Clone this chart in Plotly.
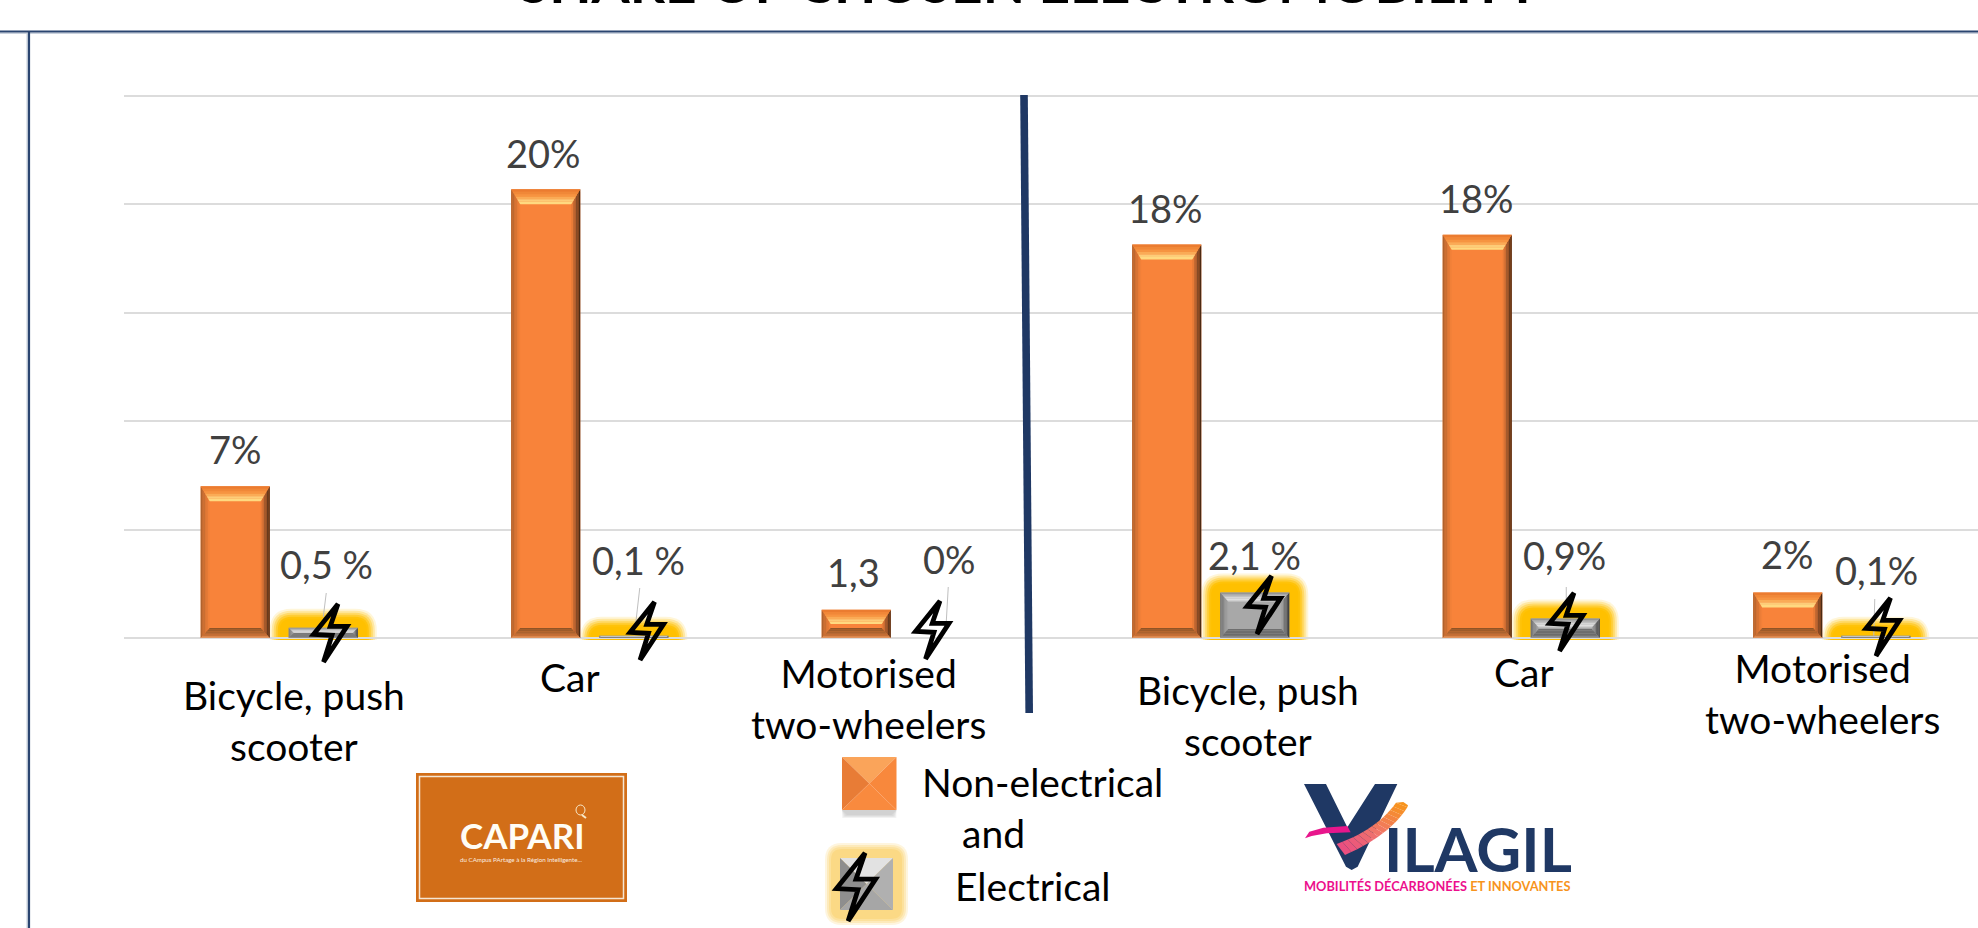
import plotly.graph_objects as go

# ---------- data ----------
TITLE = "SHARE OF CHOSEN ELECTROMOBILITY"
CATEGORIES = ["Bicycle, push<br>scooter", "Car", "Motorised<br>two-wheelers",
              "Bicycle, push<br>scooter", "Car", "Motorised<br>two-wheelers"]
NON_ELECTRICAL = [7.0, 20.7, 1.3, 18.15, 18.6, 2.1]
ELECTRICAL = [0.47, 0.1, 0.0, 2.1, 0.9, 0.1]
NON_ELECTRICAL_LABELS = ["7%", "20%", "1,3", "18%", "18%", "2%"]
ELECTRICAL_LABELS = ["0,5 %", "0,1 %", "0%", "2,1 %", "0,9%", "0,1%"]
Y_TICKS = [0, 5, 10, 15, 20, 25]
LEGEND_LINES = ["Non-electrical", "and", "Electrical"]

# ---------- layout constants ----------
W, H = 1978, 928
X0, SLOT = 124.0, 310.5     # left of plot, px per category
BASE, UNIT = 638.0, 21.68   # baseline px, px per percentage point
SERIES_STEP, BAR_W = 0.2835, 0.2225
FONT = "Lato"
NAVY = "#1F3864"


def xd(p):
    return (p - X0) / SLOT - 0.5


def yd(p):
    return (BASE - p) / UNIT


def xpx(v):
    return X0 + (v + 0.5) * SLOT


def ypx(v):
    return BASE - v * UNIT


def hexrgb(c):
    c = c.lstrip("#")
    return [int(c[i:i + 2], 16) for i in (0, 2, 4)]


def ramp(stops, t):
    for (a, ca), (b, cb) in zip(stops, stops[1:]):
        if t <= b:
            f = (t - a) / (b - a) if b > a else 0
            ra, rb = hexrgb(ca), hexrgb(cb)
            return "rgb(%d,%d,%d)" % tuple(round(ra[i] + (rb[i] - ra[i]) * f) for i in range(3))
    return stops[-1][1]


shapes = []


def poly_data(pts, fill, layer="above", opacity=1.0):
    d = "M" + " L".join(f"{xd(x):.5f},{yd(y):.4f}" for x, y in pts) + " Z"
    shapes.append(dict(type="path", path=d, xref="x", yref="y", fillcolor=fill,
                       line=dict(width=0), layer=layer, opacity=opacity))


def poly_paper(pts, fill, opacity=1.0):
    d = "M" + " L".join(f"{x / W:.5f},{1 - y / H:.5f}" for x, y in pts) + " Z"
    shapes.append(dict(type="path", path=d, xref="paper", yref="paper", fillcolor=fill,
                       line=dict(width=0), opacity=opacity))


def band(outer, inner, stops, n=6, add=poly_data):
    (o1, o2), (i1, i2) = outer, inner
    for k in range(n):
        t0, t1 = k / n, (k + 1) / n
        lerp = lambda a, b, t: (a[0] + (b[0] - a[0]) * t, a[1] + (b[1] - a[1]) * t)
        add([lerp(o1, i1, t0), lerp(o2, i2, t0), lerp(o2, i2, t1), lerp(o1, i1, t1)],
            ramp(stops, (t0 + t1) / 2))


ORANGE = "#F8833A"
GRAY = "#A8A8A8"
OR_STOPS = dict(
    l=[(0, "#A85F2C"), (1, ORANGE)],
    r=[(0, "#3E220E"), (0.5, "#94522A"), (1, ORANGE)],
    t=[(0, "#E8762C"), (0.5, "#F99A45"), (0.85, "#FFE08C"), (1, "#FFD070")],
    b=[(0, "#F0A878"), (0.2, "#C87238"), (1, "#8A5024")],
)
GR_STOPS = dict(
    l=[(0, "#6E6E6E"), (1, GRAY)],
    r=[(0, "#3A3A3A"), (0.5, "#6B6B6B"), (1, GRAY)],
    t=[(0, "#8A8A8A"), (0.7, "#E4E4E4"), (1, "#C8C8C8")],
    b=[(0, "#A0A0A0"), (0.3, "#6A6A6A"), (1, "#707070")],
)


def bevel(cx, value, stops, top_px, bot_px, side_px):
    x0, x1 = xpx(cx - BAR_W / 2), xpx(cx + BAR_W / 2)
    yt, yb = ypx(value), ypx(0)
    h = yb - yt
    st = min(top_px, h * 0.5)
    sb = min(bot_px, h * 0.5)
    sx = min(side_px, max(h * 0.5, 2))
    a, b, c, d = (x0, yt), (x1, yt), (x1, yb), (x0, yb)
    ia, ib, ic, id_ = (x0 + sx, yt + st), (x1 - sx, yt + st), (x1 - sx, yb - sb), (x0 + sx, yb - sb)
    band((a, d), (ia, id_), stops["l"])
    band((b, c), (ib, ic), stops["r"])
    band((a, b), (ia, ib), stops["t"])
    band((d, c), (id_, ic), stops["b"])


def glow(cx, value):
    x0, x1 = xpx(cx - BAR_W / 2), xpx(cx + BAR_W / 2)
    yt, yb = ypx(value), ypx(0) + 2
    for r, op in ((19, .15), (17, .25), (15, .35), (13, .5), (11, .8), (9, 1)):
        r2 = r + 3
        L, R, T = x0 - r, x1 + r, yt - r
        p = (f"M{xd(L):.5f},{yd(yb):.4f} L{xd(L):.5f},{yd(T + r2):.4f} "
             f"Q{xd(L):.5f},{yd(T):.4f} {xd(L + r2):.5f},{yd(T):.4f} "
             f"L{xd(R - r2):.5f},{yd(T):.4f} Q{xd(R):.5f},{yd(T):.4f} {xd(R):.5f},{yd(T + r2):.4f} "
             f"L{xd(R):.5f},{yd(yb):.4f} Z")
        shapes.append(dict(type="path", path=p, xref="x", yref="y", fillcolor="#FFC000",
                           opacity=op, line=dict(width=0), layer="below"))


BOLT = [(7.7, -29), (-16.7, 1.3), (1.7, 2.3), (-6.7, 29), (16.7, -6.7), (0, -6.7)]


def bolt_data(cx, cy):
    d = "M" + " L".join(f"{xd(cx + a):.5f},{yd(cy + b):.4f}" for a, b in BOLT) + " Z"
    shapes.append(dict(type="path", path=d, xref="x", yref="y",
                       line=dict(color="black", width=4.8), layer="above"))


# bar decorations, all anchored on the values
for i, v in enumerate(NON_ELECTRICAL):
    bevel(i - SERIES_STEP / 2, v, OR_STOPS, 15, 10, 9)
for i, v in enumerate(ELECTRICAL):
    if v > 0:
        glow(i + SERIES_STEP / 2, v)
        bevel(i + SERIES_STEP / 2, v, GR_STOPS, 9, 9, 8)

# bolt centre, as px offset from the electrical bar centre and baseline
BOLT_OFFSET = [(7, -5), (13, -7), (-12, -8), (9, -33), (1, -16), (7, -11)]
for i, (dx, dy) in enumerate(BOLT_OFFSET):
    bolt_data(xpx(i + SERIES_STEP / 2) + dx, BASE + dy)

# leader lines (px offsets from electrical bar centre/baseline)
LEADERS = {0: (3, -45, 0, -21), 1: (6, -50, 2, -15), 2: (4, -51, 2, -16), 4: (1, -51, 1, -35), 5: (-1, -39, -2, -1)}
for i, (a, b, c, d) in LEADERS.items():
    cx = xpx(i + SERIES_STEP / 2)
    shapes.append(dict(type="line", xref="x", yref="y", x0=xd(cx + a), y0=yd(BASE + b),
                       x1=xd(cx + c), y1=yd(BASE + d), line=dict(color="#BFBFBF", width=1), layer="below"))

# frame
for (a, b, c, d, col, wd) in [(0, 33.2, W, 33.2, "#C9D1DD", 1.5), (0, 31.5, W, 31.5, "#2B4570", 2.2),
                              (27.2, 33, 27.2, H, "#C9D1DD", 1.5), (29, 31, 29, H, "#2B4570", 2.2)]:
    shapes.append(dict(type="line", xref="paper", yref="paper", x0=a / W, y0=1 - b / H, x1=c / W, y1=1 - d / H,
                       line=dict(color=col, width=wd)))

# divider
poly_paper([(1020.2, 95), (1027.8, 95), (1033, 713), (1025.4, 713)], NAVY)

# ---- legend swatches ----
for k in range(6):
    poly_paper([(842, 810), (896.5, 810), (896.5 - k, 818 - k * .6), (842 + k, 818 - k * .6)], "#999999", .09)
ox0, ox1, oy0, oy1 = 842, 896.5, 757, 810
mx, my = (ox0 + ox1) / 2, (oy0 + oy1) / 2
poly_paper([(ox0, oy0), (ox1, oy0), (mx, my)], "#FAA45A")
poly_paper([(ox0, oy0), (ox0, oy1), (mx, my)], "#E87C36")
poly_paper([(ox1, oy0), (ox1, oy1), (mx, my)], "#F8883C")
poly_paper([(ox0, oy1), (ox1, oy1), (mx, my)], "#F98A3E")

gx0, gx1, gy0, gy1 = 840, 893, 858, 910
for r, op in ((15, .25), (13, .35), (11, .45), (9, .7)):
    rr = r + 2
    d = (f"M{(gx0 - r + rr) / W:.5f},{1 - (gy0 - r) / H:.5f} L{(gx1 + r - rr) / W:.5f},{1 - (gy0 - r) / H:.5f} "
         f"Q{(gx1 + r) / W:.5f},{1 - (gy0 - r) / H:.5f} {(gx1 + r) / W:.5f},{1 - (gy0 - r + rr) / H:.5f} "
         f"L{(gx1 + r) / W:.5f},{1 - (gy1 + r - rr) / H:.5f} Q{(gx1 + r) / W:.5f},{1 - (gy1 + r) / H:.5f} "
         f"{(gx1 + r - rr) / W:.5f},{1 - (gy1 + r) / H:.5f} L{(gx0 - r + rr) / W:.5f},{1 - (gy1 + r) / H:.5f} "
         f"Q{(gx0 - r) / W:.5f},{1 - (gy1 + r) / H:.5f} {(gx0 - r) / W:.5f},{1 - (gy1 + r - rr) / H:.5f} "
         f"L{(gx0 - r) / W:.5f},{1 - (gy0 - r + rr) / H:.5f} Q{(gx0 - r) / W:.5f},{1 - (gy0 - r) / H:.5f} "
         f"{(gx0 - r + rr) / W:.5f},{1 - (gy0 - r) / H:.5f} Z")
    shapes.append(dict(type="path", path=d, xref="paper", yref="paper", fillcolor="#FBD67A",
                       opacity=op, line=dict(width=0)))
gmx, gmy = (gx0 + gx1) / 2, (gy0 + gy1) / 2
poly_paper([(gx0, gy0), (gx1, gy0), (gmx, gmy)], "#E2E2E2")
poly_paper([(gx0, gy0), (gx0, gy1), (gmx, gmy)], "#8E8E8E")
poly_paper([(gx1, gy0), (gx1, gy1), (gmx, gmy)], "#B0B0B0")
poly_paper([(gx0, gy1), (gx1, gy1), (gmx, gmy)], "#A6A6A6")
sc = 68 / 58
d = "M" + " L".join(f"{(856 + a * sc) / W:.5f},{1 - (887 + b * sc) / H:.5f}" for a, b in BOLT) + " Z"
shapes.append(dict(type="path", path=d, xref="paper", yref="paper", line=dict(color="black", width=4.8)))

# ---- CAPARI logo ----
shapes.append(dict(type="rect", xref="paper", yref="paper", x0=416 / W, x1=627 / W, y0=1 - 773 / H, y1=1 - 902 / H,
                   fillcolor="#D26E18", line=dict(width=0)))
shapes.append(dict(type="rect", xref="paper", yref="paper", x0=419.5 / W, x1=623.5 / W, y0=1 - 776.5 / H, y1=1 - 898.5 / H,
                   line=dict(color="#F5E6D3", width=1.5)))
shapes.append(dict(type="circle", xref="paper", yref="paper", x0=576 / W, x1=585 / W, y0=1 - 805 / H, y1=1 - 815 / H,
                   line=dict(color="#F8E8C8", width=1)))
shapes.append(dict(type="line", xref="paper", yref="paper", x0=582 / W, x1=586 / W, y0=1 - 815 / H, y1=1 - 818 / H,
                   line=dict(color="#F8E8C8", width=2)))

# ---- VILAGIL logo (local coordinates are 3x px from its corner) ----
lg = lambda x, y: (1290 + x / 3, 770 + y / 3)
poly_paper([lg(*p) for p in [(42, 42), (108, 42), (172, 172), (255, 42), (322, 42), (203, 290), (185, 300), (168, 290)]], NAVY)
poly_paper([lg(*p) for p in [(45, 205), (58, 185), (100, 173), (172, 168), (182, 187), (110, 190), (65, 198)]], "#E8168C")


def qb(p0, p1, p2, t):
    return ((1 - t) ** 2 * p0[0] + 2 * (1 - t) * t * p1[0] + t * t * p2[0],
            (1 - t) ** 2 * p0[1] + 2 * (1 - t) * t * p1[1] + t * t * p2[1])


N = 14
for k in range(N):
    t0, t1 = k / N, (k + 1) / N
    A = ((140, 222), (262, 178), (318, 98))
    B = ((165, 255), (300, 195), (352, 112))
    col = ramp([(0, "#EA4C82"), (0.45, "#F0736C"), (1, "#F7941D")], (t0 + t1) / 2)
    poly_paper([lg(*qb(*A, t0)), lg(*qb(*A, t1)), lg(*qb(*B, t1)), lg(*qb(*B, t0))], col)
poly_paper([lg(318, 98), lg(340, 96), lg(354, 106), lg(352, 112)], "#F7941D")

# ---------- annotations ----------
ann = []


def pa(x, y, text, size, color="black", bold=False, xanchor="center"):
    ann.append(dict(x=x / W, y=1 - y / H, xref="paper", yref="paper", text=f"<b>{text}</b>" if bold else text,
                    showarrow=False, xanchor=xanchor, yanchor="middle",
                    font=dict(family=FONT, size=size, color=color)))


pa(1030, -18, TITLE, 55, "black", True)

LABEL_SIZE = 38
NE_LABEL = [(0, -37), (-2, -36), (-3, -38), (-1, -37), (-1, -37), (0, -38)]     # px from bar top
E_LABEL = [(3, -64), (5, -76), (5, -79), (0, -37), (-1, -63), (1, -66)]
for i, (v, t) in enumerate(zip(NON_ELECTRICAL, NON_ELECTRICAL_LABELS)):
    ann.append(dict(x=i - SERIES_STEP / 2, y=v, xref="x", yref="y", text=t, showarrow=False,
                    xshift=NE_LABEL[i][0], yshift=-NE_LABEL[i][1], yanchor="middle",
                    font=dict(family=FONT, size=LABEL_SIZE, color="#404040")))
for i, (v, t) in enumerate(zip(ELECTRICAL, ELECTRICAL_LABELS)):
    ann.append(dict(x=i + SERIES_STEP / 2, y=v, xref="x", yref="y", text=t, showarrow=False,
                    xshift=E_LABEL[i][0], yshift=-E_LABEL[i][1], yanchor="middle",
                    font=dict(family=FONT, size=LABEL_SIZE, color="#404040")))

CAT_POS = [(294, 720), (570, 677), (868, 698), (1248, 715), (1524, 672), (1822, 693)]
for (x, y), t in zip(CAT_POS, CATEGORIES):
    pa(x, y, t, 39)

pa(1042, 782, LEGEND_LINES[0], 39)
pa(993, 833, LEGEND_LINES[1], 39)
pa(1033, 886, LEGEND_LINES[2], 39)

pa(522, 835, "CAPARI", 35, "#FFFDF5", True)
pa(521, 859, "du CAmpus PArtage à la Région Intelligente...", 6.2, "#FBEFE2")

pa(1478, 848, "ILAGIL", 62, NAVY, True)
pa(1437.5, 886,
   "<span style='color:#EC0F8C'>MOBILITÉS DÉCARBONÉES</span> <span style='color:#F7941D'>ET INNOVANTES</span>",
   12.8, NAVY, True)

# ---------- figure ----------
idx = list(range(len(CATEGORIES)))
fig = go.Figure()
fig.add_bar(x=idx, y=NON_ELECTRICAL, name="Non-electrical", marker=dict(color=ORANGE, line=dict(width=0)))
fig.add_bar(x=idx, y=ELECTRICAL, name="Electrical", marker=dict(color=GRAY, line=dict(width=0)))
fig.update_layout(
    width=W, height=H, margin=dict(l=0, r=0, t=0, b=0), autosize=False,
    paper_bgcolor="white", plot_bgcolor="white", showlegend=False,
    barmode="group", bargap=1 - 2 * SERIES_STEP, bargroupgap=1 - BAR_W / SERIES_STEP,
    xaxis=dict(domain=[X0 / W, 1], range=[xd(X0), xd(W)], showticklabels=False, showgrid=False,
               zeroline=False, ticks=""),
    yaxis=dict(domain=[0, 1], range=[yd(H), yd(0)], tickvals=Y_TICKS, showticklabels=False, ticks="",
               showgrid=True, gridcolor="#DCDCDC", gridwidth=2, zeroline=False),
    shapes=shapes, annotations=ann,
)
fig.write_html("out.html", config=dict(displayModeBar=False),
               post_script="document.body.style.margin='0';document.documentElement.style.overflow='hidden';")
